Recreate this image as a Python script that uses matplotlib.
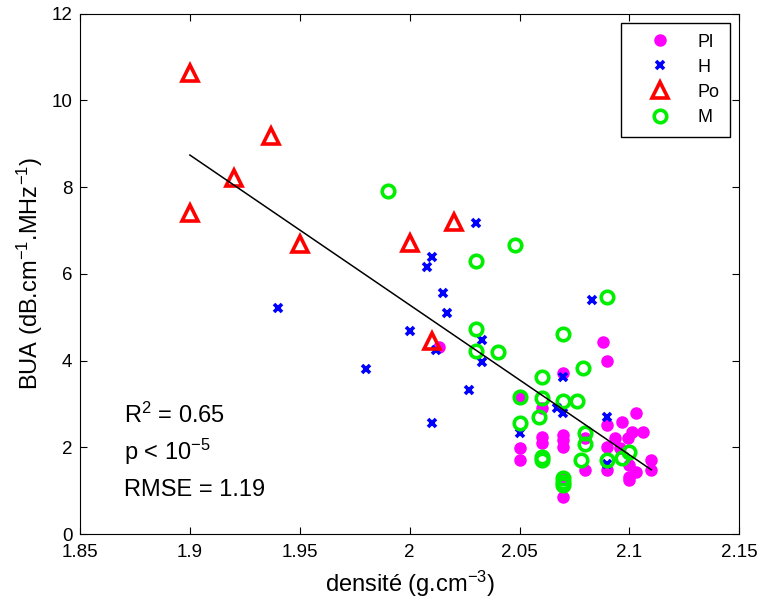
import numpy as np
import matplotlib.pyplot as plt

plt.rcParams["font.family"] = ["Liberation Sans", "DejaVu Sans"]
plt.rcParams["mathtext.fontset"] = "custom"
plt.rcParams["mathtext.rm"] = "Liberation Sans"
plt.rcParams["mathtext.it"] = "Liberation Sans:italic"

# Pl
pl_x = [2.0135, 2.088, 2.09, 2.07, 2.05, 2.06, 2.103, 2.0965, 2.09, 2.106, 2.101,
        2.0935, 2.0995, 2.09, 2.0957, 2.09, 2.1, 2.1, 2.103, 2.11, 2.11, 2.08,
        2.08, 2.06, 2.06, 2.07, 2.07, 2.07, 2.05, 2.05, 2.07, 2.07, 2.1]
pl_y = [4.31, 4.43, 4.00, 3.71, 3.15, 2.90, 2.78, 2.58, 2.51, 2.36, 2.36,
        2.21, 2.21, 2.01, 1.98, 1.48, 1.59, 1.32, 1.44, 1.71, 1.48, 2.21,
        1.48, 2.24, 2.09, 2.28, 2.17, 2.01, 1.98, 1.71, 1.27, 0.85, 1.25]

# H
h_x = [2.03, 2.01, 2.008, 2.015, 2.083, 1.94, 2.017, 2.0, 2.033, 2.012, 2.033,
       1.98, 2.07, 2.027, 2.067, 2.07, 2.09, 2.01, 2.05, 2.09]
h_y = [7.18, 6.40, 6.15, 5.56, 5.40, 5.21, 5.09, 4.68, 4.47, 4.24, 3.97,
       3.80, 3.63, 3.32, 2.90, 2.78, 2.71, 2.55, 2.34, 1.62]

# Po
po_x = [1.9, 1.937, 1.92, 1.9, 1.95, 2.0, 2.02, 2.01]
po_y = [10.64, 9.18, 8.20, 7.40, 6.69, 6.72, 7.20, 4.46]

# M
m_x = [1.99, 2.048, 2.03, 2.09, 2.03, 2.07, 2.03, 2.04, 2.079, 2.06, 2.05,
       2.06, 2.07, 2.076, 2.059, 2.05, 2.08, 2.08, 2.06, 2.06, 2.078, 2.09,
       2.0965, 2.1, 2.07, 2.07, 2.07]
m_y = [7.92, 6.67, 6.30, 5.46, 4.73, 4.61, 4.22, 4.19, 3.84, 3.61, 3.15,
       3.13, 3.07, 3.07, 2.71, 2.55, 2.32, 2.08, 1.78, 1.71, 1.71, 1.71,
       1.76, 1.90, 1.30, 1.21, 1.13]

# droite de regression
fit_x = [1.9, 2.11]
fit_y = [8.74, 1.48]

xticks = [1.85, 1.9, 1.95, 2.0, 2.05, 2.1, 2.15]
xtick_labels = ["1.85", "1.9", "1.95", "2", "2.05", "2.1", "2.15"]
yticks = [0, 2, 4, 6, 8, 10, 12]

fig = plt.figure(figsize=(7.61, 6.03), dpi=100)
ax = fig.add_axes([0.1051, 0.1144, 0.8664, 0.8629])

ax.plot(pl_x, pl_y, "o", color="#ff00ff", ms=8, mec="#ff00ff", ls="none", label="Pl")
ax.plot(h_x, h_y, "x", color="#0000ff", ms=6, mew=2.6, ls="none", label="H")
ax.plot(po_x, po_y, "^", color="#ff0000", mfc="none", ms=11, mew=2.6, ls="none", label="Po")
ax.plot(m_x, m_y, "o", color="#00ee00", mfc="none", ms=9, mew=2.6, ls="none", label="M")
ax.plot(fit_x, fit_y, "-", color="black", lw=1.1)

ax.set_xlim(1.85, 2.15)
ax.set_ylim(0, 12)
ax.set_xticks(xticks)
ax.set_xticklabels(xtick_labels)
ax.set_yticks(yticks)
ax.tick_params(direction="in", top=True, right=True, labelsize=13.5, length=5)
ax.tick_params(axis="x", pad=7.5)
ax.tick_params(axis="y", pad=5.5)

ax.set_xlabel(r"densité (g.cm$^{\mathregular{-3}}$)", fontsize=17, labelpad=5)
ax.set_ylabel(r"BUA (dB.cm$^{\mathregular{-1}}$.MHz$^{\mathregular{-1}}$)", fontsize=17, labelpad=4.5)

ax.text(1.87, 2.74, r"R$^{\mathregular{2}}$ = 0.65", fontsize=17, va="center")
ax.text(1.87, 1.90, r"p < 10$^{\mathregular{-5}}$", fontsize=17, va="center")
ax.text(1.87, 1.01, "RMSE = 1.19", fontsize=17, va="center")

leg = ax.legend(loc="upper right", fontsize=13, fancybox=False, edgecolor="black",
                framealpha=1, borderpad=0.6, labelspacing=0.45, handlelength=3.2,
                handletextpad=0.45, borderaxespad=0.5)
leg.get_frame().set_linewidth(1.0)

plt.savefig("out.png", dpi=100)
